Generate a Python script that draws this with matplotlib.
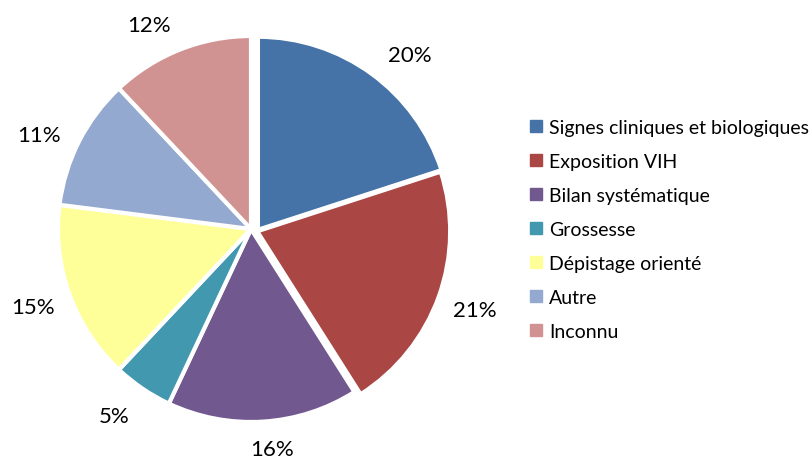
import numpy as np
import matplotlib
matplotlib.use("Agg")
import matplotlib.pyplot as plt
from matplotlib.lines import Line2D

categories = [
    "Signes cliniques et biologiques",
    "Exposition VIH",
    "Bilan systématique",
    "Grossesse",
    "Dépistage orienté",
    "Autre",
    "Inconnu",
]
shares = [20, 21, 16, 5, 15, 11, 12]
colors = ["#4572A7", "#AA4643", "#71588F", "#4198AF", "#FFFF99", "#93A9CF", "#D19392"]

# wedge offsets from the pie centre (axes units): first two slices pulled out to the right
wedge_offset = [(0.036, -0.004), (0.032, -0.012), (0, 0), (0, 0), (0, 0), (0, 0), (0, 0)]

# small per-label nudges (degrees, radius) so percentages clear each other
label_angle_nudge = [-5, 0, 2, -2, 0, 3, 5]
label_radius = [1.2, 1.2, 1.145, 1.2, 1.2, 1.2, 1.18]

plt.rcParams["font.family"] = ["Lato", "DejaVu Sans"]

fig = plt.figure(figsize=(8.12, 4.6), dpi=100)
cx, cy, r = 251, 230, 193
ax = fig.add_axes([(cx - r) / 812, (cy - r) / 460, 2 * r / 812, 2 * r / 460])

wedges, _ = ax.pie(
    shares,
    colors=colors,
    startangle=90,
    counterclock=False,
    wedgeprops=dict(edgecolor="white", linewidth=3),
)
for w, off in zip(wedges, wedge_offset):
    w.set_center(off)

total = sum(shares)
cum = 0
for i, s in enumerate(shares):
    mid = 90 - 360 * (cum + s / 2) / total
    cum += s
    ang = np.deg2rad(mid + label_angle_nudge[i])
    d = label_radius[i]
    ox, oy = wedge_offset[i]
    ax.text(ox + d * np.cos(ang), oy + d * np.sin(ang), f"{s}%", ha="center", va="center",
            fontsize=16, color="black")

ax.set_xlim(-1, 1)
ax.set_ylim(-1, 1)
ax.set_aspect("equal")
ax.axis("off")

handles = [Line2D([], [], marker="s", linestyle="none", markersize=8,
                  markerfacecolor=c, markeredgecolor=c) for c in colors]
fig.legend(handles, categories, loc="upper left", bbox_to_anchor=(529 / 812, 1 - 120 / 460),
           frameon=False, fontsize=14, handlelength=0.7, handletextpad=0.35,
           labelspacing=0.87, borderaxespad=0, borderpad=0)

fig.savefig("out.png", dpi=100)
